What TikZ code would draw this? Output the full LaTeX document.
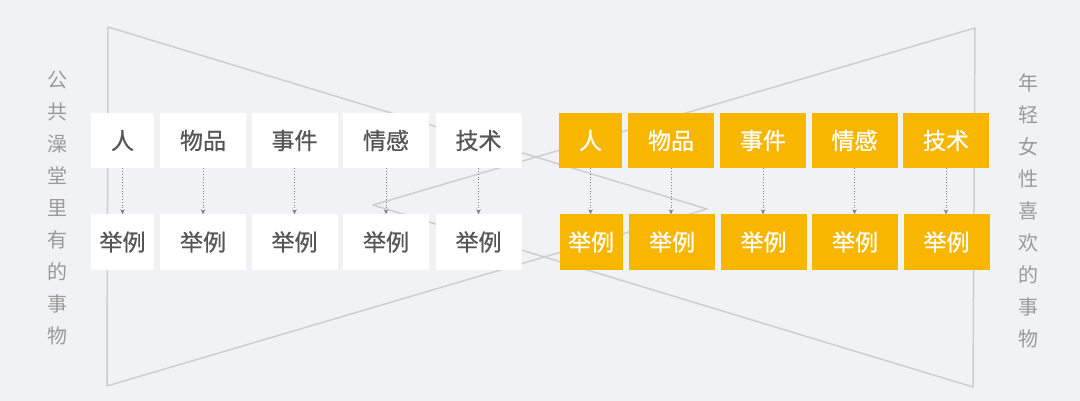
\documentclass[tikz,border=0pt]{standalone}
\usepackage{fontspec}
\setmainfont{Noto Sans CJK SC}
\newfontfamily\boxfont[FakeBold=0.8]{Noto Sans CJK SC}
\usetikzlibrary{arrows.meta}

\definecolor{bgcol}{HTML}{F1F2F4}
\definecolor{linecol}{HTML}{CDCED0}
\definecolor{textcol}{HTML}{555555}
\definecolor{sidecol}{HTML}{9A9A9A}
\definecolor{amber}{HTML}{F8B600}

\tikzset{
  wbox/.style={fill=white, text=textcol, inner sep=0pt, minimum height=55pt,
    font=\boxfont\fontsize{23}{23}\selectfont},
  ybox/.style={wbox, fill=amber, text=white},
  narrow/.style={minimum width=63pt},
  wide/.style={minimum width=86pt},
  link/.style={draw=black!50, dotted, line width=0.8pt, -{Stealth[length=5pt,width=4.5pt]}},
  sidetext/.style={text=sidecol, align=center, inner sep=0pt,
    font=\fontsize{20}{32}\selectfont}
}

\begin{document}
\begin{tikzpicture}[x=1pt, y=-1pt, line join=round]
  % background, fixes the page size
  \fill[bgcol] (0,0) rectangle (1080,401);
  \useasboundingbox (0,0) rectangle (1080,401);

  % two crossed triangles
  \draw[linecol, line width=1.5pt] (108,27) -- (707,209) -- (107,386) -- cycle;
  \draw[linecol, line width=1.5pt] (975,28) -- (373,205) -- (973,387) -- cycle;

  % side titles
  \node[sidetext] (lefttitle) at (57,208) {公\\共\\澡\\堂\\里\\有\\的\\事\\物};
  \node[sidetext] (righttitle) at (1028,211) {年\\轻\\女\\性\\喜\\欢\\的\\事\\物};

  % white group, top row
  \node[wbox, narrow] (wa) at (122.5,140.5) {人};
  \node[wbox, wide]   (wb) at (203,140.5)   {物品};
  \node[wbox, wide]   (wc) at (294.5,140.5) {事件};
  \node[wbox, wide]   (wd) at (386,140.5)   {情感};
  \node[wbox, wide]   (we) at (478.5,140.5) {技术};
  % white group, bottom row
  \node[wbox, narrow] (wa2) at (122.5,242) {举例};
  \node[wbox, wide]   (wb2) at (203,242)   {举例};
  \node[wbox, wide]   (wc2) at (294.5,242) {举例};
  \node[wbox, wide]   (wd2) at (386,242)   {举例};
  \node[wbox, wide]   (we2) at (478.5,242) {举例};

  % yellow group, top row
  \node[ybox, narrow] (ya) at (590.5,140.5) {人};
  \node[ybox, wide]   (yb) at (671,140.5)   {物品};
  \node[ybox, wide]   (yc) at (763,140.5)   {事件};
  \node[ybox, wide]   (yd) at (854.5,140.5) {情感};
  \node[ybox, wide]   (ye) at (946,140.5)   {技术};
  % yellow group, bottom row
  \node[ybox, narrow] (ya2) at (591,242)   {举例};
  \node[ybox, wide]   (yb2) at (672,242)   {举例};
  \node[ybox, wide]   (yc2) at (763.5,242) {举例};
  \node[ybox, wide]   (yd2) at (855,242)   {举例};
  \node[ybox, wide]   (ye2) at (946.5,242) {举例};

  % dotted links, top row to examples
  \draw[link] (wa) -- (wa.south |- wa2.north);
  \draw[link] (wb) -- (wb.south |- wb2.north);
  \draw[link] (wc) -- (wc.south |- wc2.north);
  \draw[link] (wd) -- (wd.south |- wd2.north);
  \draw[link] (we) -- (we.south |- we2.north);
  \draw[link] (ya) -- (ya.south |- ya2.north);
  \draw[link] (yb) -- (yb.south |- yb2.north);
  \draw[link] (yc) -- (yc.south |- yc2.north);
  \draw[link] (yd) -- (yd.south |- yd2.north);
  \draw[link] (ye) -- (ye.south |- ye2.north);
\end{tikzpicture}
\end{document}
